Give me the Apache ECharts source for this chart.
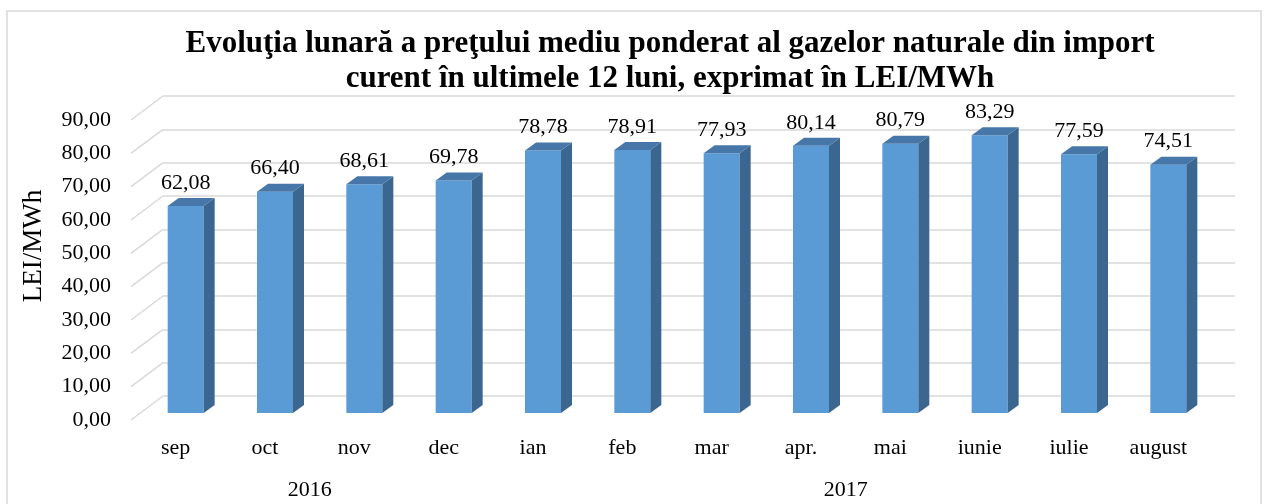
<!DOCTYPE html>
<html>
<head>
<meta charset="utf-8">
<script src="https://cdn.jsdelivr.net/npm/echarts@6/dist/echarts.min.js"></script>
<style>
  html, body { margin: 0; padding: 0; background: #fff; }
  #chart { width: 1268px; height: 504px; }
</style>
</head>
<body>
<div id="chart"></div>
<script>
const months = ['sep', 'oct', 'nov', 'dec', 'ian', 'feb', 'mar', 'apr.', 'mai', 'iunie', 'iulie', 'august'];
const prices = [62.08, 66.40, 68.61, 69.78, 78.78, 78.91, 77.93, 80.14, 80.79, 83.29, 77.59, 74.51];
const years = ['2016', '2017'];
const yearFirstMonth = [0, 4];
const yearLastMonth = [3, 11];
const yTicks = [0, 10, 20, 30, 40, 50, 60, 70, 80, 90];

const font = 'Liberation Serif, Times New Roman, serif';
const fmt = (v) => v.toFixed(2).replace('.', ',');

// depth of the 3d box: back wall sits this far up/right of the front plane
const wallDx = 32, wallDy = -24;

const chart = echarts.init(document.getElementById('chart'));

function renderBar(params, api) {
  const i = api.value(0);
  const base = api.coord([i, 0]);
  const top = api.coord([i, api.value(1)]);
  const w = 36, dx = 11, dy = -8;
  const cx = base[0] + 10;
  const y0 = base[1] - 7;
  const y1 = top[1] - 7;
  const l = cx - w / 2, r = cx + w / 2;
  return {
    type: 'group',
    children: [
      { type: 'rect', shape: { x: l, y: y1, width: w, height: y0 - y1 }, style: { fill: '#5b9bd5' } },
      { type: 'polygon', shape: { points: [[r, y1], [r + dx, y1 + dy], [r + dx, y0 + dy], [r, y0]] }, style: { fill: '#3b6690' } },
      { type: 'polygon', shape: { points: [[l, y1], [l + dx, y1 + dy], [r + dx, y1 + dy], [r, y1]] }, style: { fill: '#4677a8' } },
      {
        type: 'text',
        style: {
          x: cx, y: y1 - 23, text: fmt(api.value(1)),
          align: 'center', verticalAlign: 'middle',
          font: '22px ' + font, fill: '#000'
        }
      }
    ]
  };
}

function renderDiagonal(params, api) {
  const cs = params.coordSys;
  const p = api.coord([0, api.value(1)]);
  return {
    type: 'line',
    shape: { x1: cs.x, y1: p[1], x2: cs.x + wallDx, y2: p[1] + wallDy },
    style: { stroke: '#d9d9d9', lineWidth: 1.5 }
  };
}

function renderYear(params, api) {
  const cs = params.coordSys;
  const a = api.coord([api.value(0), 0]);
  const b = api.coord([api.value(1), 0]);
  return {
    type: 'text',
    style: {
      x: (a[0] + b[0]) / 2, y: cs.y + cs.height + 70,
      text: years[params.dataIndex],
      align: 'center', verticalAlign: 'middle',
      font: '22px ' + font, fill: '#000'
    }
  };
}

chart.setOption({
  animation: false,
  title: {
    text: 'Evoluţia lunară a preţului mediu ponderat al gazelor naturale din import\ncurent în ultimele 12 luni, exprimat în LEI/MWh',
    left: 665,
    top: 21,
    textAlign: 'center',
    textStyle: { fontFamily: font, fontWeight: 'bold', fontSize: 31, lineHeight: 35, color: '#000' }
  },
  graphic: [{
    type: 'rect',
    shape: { x: 7, y: 11, width: 1254, height: 500 },
    style: { fill: 'none', stroke: '#d9d9d9', lineWidth: 1.5 },
    silent: true
  }],
  grid: [
    { left: 131, right: 65, top: 120, bottom: 84 },
    { left: 163, right: 33, top: 96, bottom: 108 }
  ],
  xAxis: [
    {
      gridIndex: 0, type: 'category', data: months,
      axisLine: { show: false }, axisTick: { show: false },
      axisLabel: { margin: 17, fontFamily: font, fontSize: 22, color: '#000' }
    },
    { gridIndex: 1, type: 'category', data: months, show: false }
  ],
  yAxis: [
    {
      gridIndex: 0, type: 'value', min: 0, max: 90, interval: 10,
      axisLine: { show: false }, axisTick: { show: false }, splitLine: { show: false },
      axisLabel: { margin: 20, fontFamily: font, fontSize: 22, color: '#000', formatter: fmt }
    },
    {
      gridIndex: 1, type: 'value', min: 0, max: 90, interval: 10,
      name: 'LEI/MWh', nameLocation: 'middle', nameGap: 116, nameRotate: 90,
      nameTextStyle: { fontFamily: font, fontSize: 27, color: '#000' },
      axisLine: { show: false }, axisTick: { show: false }, axisLabel: { show: false },
      splitLine: { lineStyle: { color: '#d9d9d9', width: 1.5 } }
    }
  ],
  series: [
    {
      type: 'custom', xAxisIndex: 0, yAxisIndex: 0,
      renderItem: renderDiagonal,
      data: yTicks.map((v) => [0, v]),
      silent: true, z: 1
    },
    {
      type: 'custom', xAxisIndex: 0, yAxisIndex: 0,
      renderItem: renderBar,
      data: prices.map((v, i) => [i, v]),
      z: 3
    },
    {
      type: 'custom', xAxisIndex: 0, yAxisIndex: 0,
      renderItem: renderYear,
      data: years.map((y, i) => [yearFirstMonth[i], yearLastMonth[i]]),
      silent: true, z: 3
    }
  ]
});
</script>
</body>
</html>
